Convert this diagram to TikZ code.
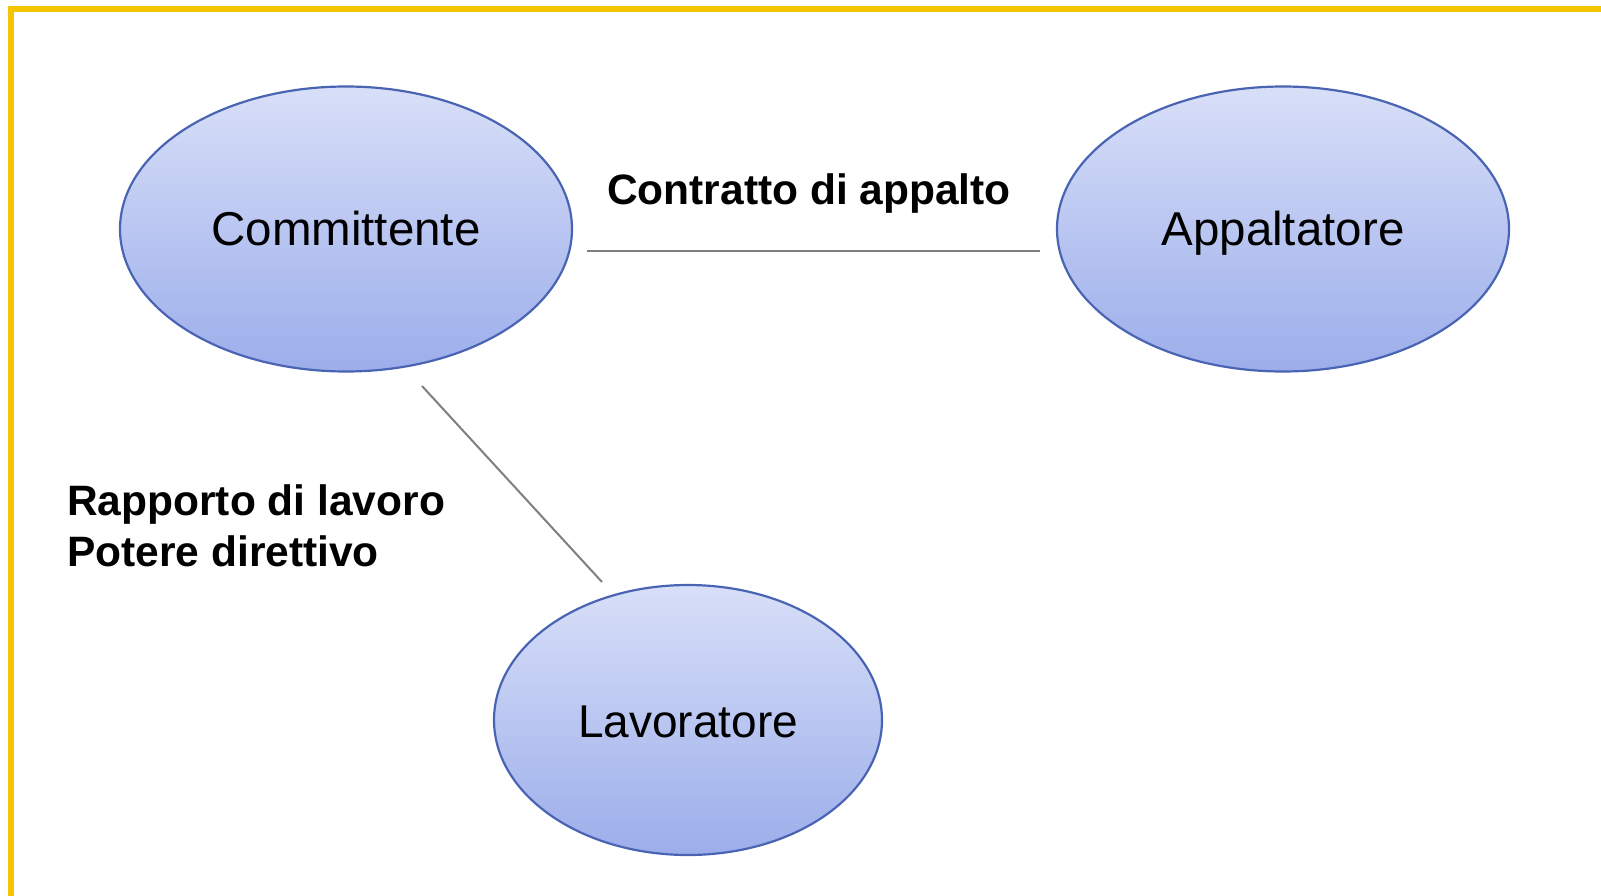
\documentclass[tikz,border=0pt]{standalone}
\usepackage{fontspec}
\setmainfont{Liberation Sans}
\usetikzlibrary{shapes.geometric}

\definecolor{frame yellow}{HTML}{F5C400}
\definecolor{party border}{HTML}{4A64B4}
\definecolor{party top}{HTML}{D8DFF8}
\definecolor{party bottom}{HTML}{9CAEEB}
\definecolor{link gray}{HTML}{7F7F7F}

\begin{document}
\begin{tikzpicture}
    [
        x=1pt,
        y=-1pt,
        party/.style={shape=ellipse, draw=party border, line width=2.2pt,
                      top color=party top, bottom color=party bottom,
                      inner sep=0pt, text height=34pt, text depth=0pt,
                      font=\fontsize{47.5}{57}\selectfont},
        party big/.style={party, minimum width=452pt, minimum height=285pt},
        party small/.style={party, minimum width=388pt, minimum height=270pt,
                            font=\fontsize{46}{55}\selectfont},
        relation/.style={inner sep=0pt, align=left,
                         font=\bfseries\fontsize{42.5}{51}\selectfont},
        link/.style={draw=link gray, line width=2pt, -},
        frame/.style={draw=frame yellow, line width=6pt}
    ]
    \fill[white] (0,0) rectangle (1601,896);
    \useasboundingbox (0,0) rectangle (1601,896);
    \draw[frame] (11,900) -- (11,9) -- (1605,9);

    \node (committente) [party big]   at (346,229)  {Committente};
    \node (appaltatore) [party big]   at (1283,229) {Appaltatore};
    \node (lavoratore)  [party small] at (688,720)  {Lavoratore};

    \coordinate (contratto start) at (587,251);
    \coordinate (contratto end)   at (1040,251);
    \coordinate (rapporto start)  at (422,386);
    \coordinate (rapporto end)    at (602,582);

    \path
    (contratto start) edge [link] (contratto end)
    (rapporto start)  edge [link] (rapporto end)
    ;

    \node (contratto) [relation, anchor=base] at (809,205)
          {Contratto di appalto};
    \node (rapporto)  [relation, anchor=base west] at (67,566)
          {Rapporto di lavoro\\Potere direttivo};
\end{tikzpicture}
\end{document}
